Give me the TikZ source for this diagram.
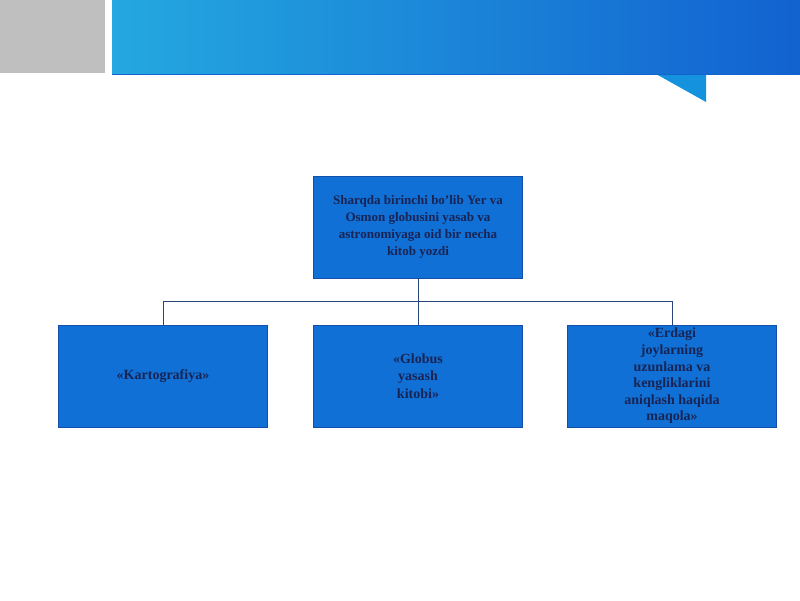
\documentclass[tikz,border=0pt]{standalone}
\usepackage{fontspec}
\setmainfont{Liberation Serif}
\definecolor{boxblue}{RGB}{16,112,214}
\definecolor{boxedge}{RGB}{20,80,170}
\definecolor{textnavy}{RGB}{24,36,84}
\definecolor{linegray}{RGB}{40,70,120}
\definecolor{bannerleft}{RGB}{36,168,224}
\definecolor{bannermid}{RGB}{22,158,224}
\definecolor{bannerright}{RGB}{18,98,208}
\begin{document}
\begin{tikzpicture}[x=1pt,y=-1pt,
    topic/.style={draw=boxedge,fill=boxblue,minimum width=209pt,minimum height=102pt,
      inner sep=0pt,align=center,text=textnavy,font=\bfseries\fontsize{13}{17}\selectfont},
    subtopic/.style={topic,font=\bfseries\fontsize{14}{17.5}\selectfont},
    link/.style={draw=linegray,line width=0.8pt}]
  \useasboundingbox (0,0) rectangle (800,600);
  \fill[white] (0,0) rectangle (800,600);
  % header
  \fill[black!25] (0,0) rectangle (105,73);
  \shade[left color=bannerleft,middle color=bannermid,right color=bannerright] (112,0) rectangle (800,74);
  \fill[bannermid!80!bannerright] (656,74) -- (706,74) -- (706,102) -- cycle;
  \draw[bannerright,line width=1pt] (112,74) -- (800,74);

  \node[topic] (S) at (418,227) {Sharqda birinchi bo'lib Yer va\\Osmon globusini yasab va\\astronomiyaga oid bir necha\\kitob yozdi};
  \node[subtopic] (K) at (163,376) {«Kartografiya»};
  \node[subtopic] (G) at (418,376) {«Globus\\yasash\\kitobi»};
  \node[subtopic,font=\bfseries\fontsize{14}{16.6}\selectfont] (M) at (672,376)
    {«Erdagi\\joylarning\\uzunlama va\\kengliklarini\\aniqlash haqida\\maqola»};

  \draw[link] (S.south) -- ++(0,23) -| (K.north);
  \draw[link] (S.south) -- (G.north);
  \draw[link] (S.south) -- ++(0,23) -| (M.north);
\end{tikzpicture}
\end{document}
